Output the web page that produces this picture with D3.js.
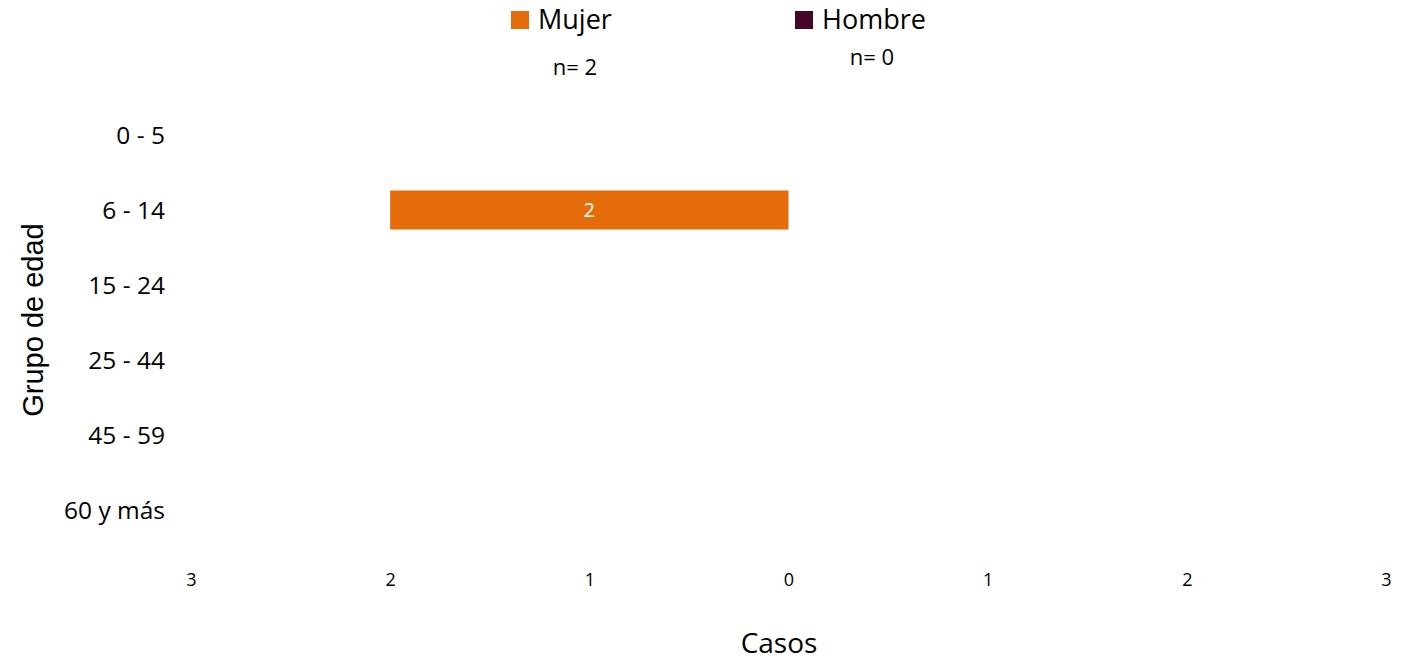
<!DOCTYPE html>
<html><head><meta charset="utf-8">
<script src="https://cdn.jsdelivr.net/npm/d3@7"></script>
<style>body{margin:0;background:#fff;} svg{display:block;font-family:"Open Sans",sans-serif;}</style>
</head><body>
<svg id="c" width="1406" height="660"></svg>
<script>
const categories = ["0 - 5","6 - 14","15 - 24","25 - 44","45 - 59","60 y más"];
const mujer = [0,2,0,0,0,0];
const hombre = [0,0,0,0,0,0];
const series = ["Mujer","Hombre"];
const colors = ["#E46C0A","#44072A"];
const nLabels = ["n= 2","n= 0"];
const tickValues = [-3,-2,-1,0,1,2,3];

const svg = d3.select("#c");
const x = d3.scaleLinear().domain([-3,3]).range([191,1386]);
const y = d3.scaleBand().domain(categories).range([97.5,547.5]).paddingInner(0.48).paddingOuter(0.24);

// y labels
svg.append("g").selectAll("text").data(categories).join("text")
  .attr("x",165).attr("y",d=>y(d)+y.bandwidth()/2).attr("dy","0.35em")
  .attr("text-anchor","end").attr("font-size",24.5).attr("fill","#000").text(d=>d);

// x axis labels
const xa = svg.append("g").attr("transform","translate(0,572)")
  .call(d3.axisBottom(x).tickValues(tickValues).tickFormat(d=>Math.abs(d)).tickSize(0));
xa.select(".domain").remove();
xa.selectAll("text").attr("font-size",18).attr("font-family","'Open Sans',sans-serif").attr("fill","#000").attr("dy","0.35em").attr("y",8);

// bars
const rows = categories.map((c,i)=>({c,m:mujer[i],h:hombre[i]}));
svg.append("g").selectAll("rect.m").data(rows.filter(r=>r.m>0)).join("rect")
  .attr("x",d=>x(-d.m)).attr("width",d=>x(0)-x(-d.m))
  .attr("y",d=>y(d.c)).attr("height",y.bandwidth()).attr("fill",colors[0]);
svg.append("g").selectAll("rect.h").data(rows.filter(r=>r.h>0)).join("rect")
  .attr("x",x(0)).attr("width",d=>x(d.h)-x(0))
  .attr("y",d=>y(d.c)).attr("height",y.bandwidth()).attr("fill",colors[1]);
svg.append("g").selectAll("text").data(rows.filter(r=>r.m>0)).join("text")
  .attr("x",d=>(x(-d.m)+x(0))/2).attr("y",d=>y(d.c)+y.bandwidth()/2).attr("dy","0.35em")
  .attr("text-anchor","middle").attr("font-size",20).attr("fill","#fff").text(d=>d.m);
svg.append("g").selectAll("text").data(rows.filter(r=>r.h>0)).join("text")
  .attr("x",d=>(x(d.h)+x(0))/2).attr("y",d=>y(d.c)+y.bandwidth()/2).attr("dy","0.35em")
  .attr("text-anchor","middle").attr("font-size",20).attr("fill","#fff").text(d=>d.h);

// legend
const leg = [{sx:511,tx:538,ny:67,nx:575},{sx:795,tx:822,ny:57,nx:872}];
series.forEach((s,i)=>{
  svg.append("rect").attr("x",leg[i].sx).attr("y",11).attr("width",18).attr("height",18).attr("fill",colors[i]);
  svg.append("text").attr("x",leg[i].tx).attr("y",20).attr("dy","0.35em").attr("font-size",27).attr("fill","#000").text(s);
  svg.append("text").attr("x",leg[i].nx).attr("y",leg[i].ny).attr("dy","0.35em").attr("text-anchor","middle").attr("font-size",22).attr("fill","#000").text(nLabels[i]);
});

// axis titles
svg.append("text").attr("x",779).attr("y",643).attr("dy","0.35em").attr("text-anchor","middle").attr("font-size",28).attr("fill","#000").text("Casos");
svg.append("text").attr("transform","translate(33,320) rotate(-90)").attr("dy","0.35em").attr("text-anchor","middle").attr("font-family","'Liberation Sans',Arial,sans-serif").attr("font-size",29).attr("fill","#000").text("Grupo de edad");
</script>
</body></html>
